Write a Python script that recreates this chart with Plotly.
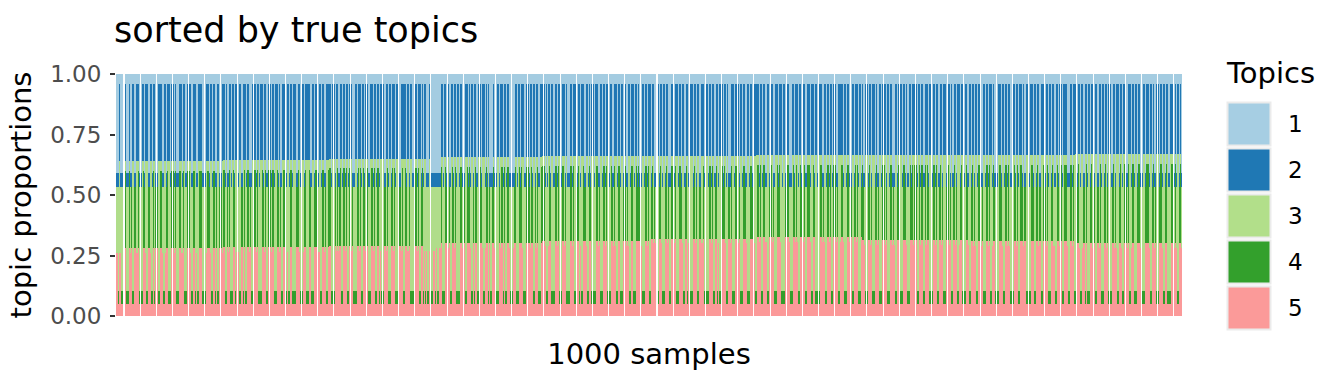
import plotly.graph_objects as go

# ---------------- data ----------------
TOPICS = ["1", "2", "3", "4", "5"]
COLORS = ["#A6CEE3", "#1F78B4", "#B2DF8A", "#33A02C", "#FB9A99"]
N_SAMPLES = 1000

# upper membership of every sample (B = topic 2 high, L = topic 1 high), 100 per row
UPPER_ROWS = [
    "LLLBLLLLBL LLBLLBBLLB BBLLBBLBBB LLBBLBBLLB BBBLLBBLBB BLBBLBLLLB BBLBBLLBBB LLBBBLLBBB BLLLBBBLBB LBBLLBBLLB",
    "BBLBLLBBLB BLBBLBBLLB BBLBBLLLBB BLBBLBBBLB BLLBBLBBLB BBLBLLBBBL BBLBBLBBBL LBBLBBLBBB BBLLBBLBBL BBLBBLLBBB",
    "BBLBBLBBLL BBLBBLBBLB BLLLBBLBBB LBBLBBLLBB BLBBLBBLBB BLLBBLBBLB BBLBBLLBBB BBLBBLBBLL BBLBBBLBLB BLLLBLLLLL",
    "LLLLLBBLBB LBLLBBLBBL BBLBBLLBBB LBLBBLBBLL BBLBBBLBLB LLLLBLLBBL BBBLBBLBBL LLLLBBLBBL BBBLLBBLBB LBBLBBLLBB",
    "BBLBLBBLBB LLBBLBBLBB BLBLLLBBLB BBLBBLBBBL LBBLBLBBLB BBLLBBLBBL BBLBBLLBBB LBBLBBLBLL BBLBBBLBBL BLLBBLBBLB",
    "BBLBBLLBBL BBLBBLBBLL LBBLBBBLBB LBBLLBBLBB BLBBLBBLLB BBLBBLBBLB BLLBBLBBBL BBLBLLLBBB LBBBLBBLBB LLBBLBBLBB",
    "BBBLBBLBBL LBBLBBLLBB BLBBBLBBLB BLLLBBLBBB LBBLBBLLBB BLBBBLBBLB BBLLBBLBBL BBLBBLLBBB BBLBBLBBLL BBLBBBLBBL",
    "BLLBBLBBLB BBLBLLBBLB BBLBBLBBLL LBBLBBBLBB LBLLBBLBBB BLBBLBBLLB BBLBBLBBLB BLLBBLBBBL BBLBLLBBLB BBLBBLBBLL",
    "BBLBBLBBLB BLLBBLBBLB BBLBLLLBBB LBBLBBLBBL LBBLBBLBBB LBLLBBLBBB LBBLBBLLBB BLBBLBBLBB LLBBLBBLBB BBLLLBBLBB",
    "BLBBLBBLLB BLBBLBBLBB LLBBLBBLBB LBBLLBBLBB BLBBLBBLLB BBLBBLBBLB BLLBBLBBBL BBLBLLBBLB BLBBLBBLLB BBLBLBBLBL",
]
# lower membership (P = topics 5 + 4 high, Q = topics 5 + 3 high, G = topic 3 high)
LOWER_ROWS = [
    "QQGQQGGQPG GGPQPGGPPQ QPGGGPPQGG PPQGGPGPPG GPPQGGQPPG GGPPQPGGGP PQQPGGGPPQ GGPPGQGGPP PGGGQPPPQG GPPGPGGPPQ",
    "PPGGPQPGGG PPGQQGGPPG PGGPPQPGGP PQPGGGGPPQ PGGPPQPPGG GPPQPGGPPG QGGPPGGGGP PPQGGQPPGG GPPGGGPPPQ QGGPPQPGGP",
    "PPGGGPQPQP PGGPPQPGGP QPGGGGPPQP GGPPQPGGGP PQPGGPPGQG GPPQPGGGPP QPGGGPPQPG GPPQQPGGGG PPQPGGPPGQ GQGGQGGQQG",
    "QGGQQPGGGP PQPGGPPQPG GGGPPQPGGP PPQGGPGPPG GPPQGGQPPG PGGPPQGGGP QPPGPGGPPQ GGQPPGGGPP PQGGGPPPQP PGGPQPGGGP",
    "PPQGGQPPGG GGPPQPGGPP QPGGGGPPQP GGPPGQGGPP PQGGPPGGGG PPQPGGGPPQ PGGGPPQPQG GPPGGGPPQP QGGPPGGGPP PPQGGGPPQP",
    "GGPPQPQGGP PQGGGPPQPG GPPQPGGGPP PQGGPPGQGG GPPQPGGPPQ QPGGGGPPQP GGPPGQGGPP PQGGPPQPGG GPPQPGGGPP PQGGGPPPQG",
    "GPPQPGGPPQ QGGPPQPGGG PPPQGGGGPP PQGGGPPQPQ GGPPQPGGPP PQGGPPGGGG PPQPQGGPPQ PGGPPQPGGQ PPQGGGPPQP GGPPQPGGGP",
    "PPQGGPPQPG GGPPQPGGGP PQPGGGPPQP QGGPPGGGPP PQGGGPPPQP PGGPQPPGGP QPPGGGPPQP GGPPQPGGGP PQPGGPPQPG GQPPGGGPPQ",
    "GGPPQPQGGP PQPGGGPPQP GGQPPGGGPP PQGGPPQPQG GGPPQPGGPP PQPPGGGGPP PGGPPQPPGG PPQPGGGPPQ QGGPPQPGGP PPQGGPPQPG",
    "GPPQGGQPPG PGGGPPQPGG PPQPGGGPPQ PGGGPPQPQG GPPQGGPPQP GGQPPGGGPP PQGGGPPPPQ GGPPQPGGPP PQGGPPGGGG PPQPQGGPPQ",
]

# levels per block of 100 samples (left to right)
TOPIC2_HIGH = [0.32, 0.315, 0.31, 0.305, 0.30, 0.30, 0.295, 0.295, 0.295, 0.29]
TOPIC5_HIGH = [0.28, 0.285, 0.29, 0.30, 0.31, 0.32, 0.325, 0.315, 0.31, 0.30]
TOPIC1_CAP = 0.04
TOPIC1_HIGH = 0.41
TOPIC2_LOW = 0.055
TOPIC3_SLIVER = 0.04
TOPIC5_LOW = 0.05
TOPIC4_LOW = 0.055

upper = "".join(UPPER_ROWS).replace(" ", "")
lower = "".join(LOWER_ROWS).replace(" ", "")
assert len(upper) == N_SAMPLES, len(upper)
assert len(lower) == N_SAMPLES, len(lower)

props = {t: [] for t in TOPICS}
for i in range(N_SAMPLES):
    blk = i // 100
    if upper[i] == "B":
        t1, t2 = TOPIC1_CAP, TOPIC2_HIGH[blk]
        sliver = TOPIC3_SLIVER
    else:
        t1, t2 = TOPIC1_HIGH, TOPIC2_LOW
        sliver = 0.0
    rest = 1.0 - t1 - t2
    if lower[i] == "P":
        t5 = TOPIC5_HIGH[blk]
        t3 = sliver
        t4 = rest - t5 - t3
    elif lower[i] == "Q":
        t5 = TOPIC5_HIGH[blk] - 0.02
        t4 = 0.0
        t3 = rest - t5
    else:
        t5 = TOPIC5_LOW
        t4 = TOPIC4_LOW
        t3 = rest - t5 - t4
    for t, v in zip(TOPICS, [t1, t2, t3, t4, t5]):
        props[t].append(v)

samples = list(range(1, N_SAMPLES + 1))

# ---------------- figure ----------------
fig = go.Figure()
# bottom of the stack first: topic 5 ... topic 1 on top
for t, c in reversed(list(zip(TOPICS, COLORS))):
    fig.add_trace(go.Bar(
        x=samples, y=props[t], name=t, width=0.937,
        marker=dict(color=c, line=dict(color=c, width=0.02)),
        hoverinfo="skip",
    ))

PL, PR, PT, PB = 116, 1182, 74, 316
W, H = 1344, 384


def px2paper_x(px):
    return (px - PL) / (PR - PL)


def px2paper_y(py):
    return (PB - py) / (PB - PT)


shapes = []
annotations = []
KEY_X0, KEY_SIZE, KEY_PITCH, KEY_TOP = 1227.5, 43, 46, 102.5
for j, (t, c) in enumerate(zip(TOPICS, COLORS)):
    top = KEY_TOP + j * KEY_PITCH
    shapes.append(dict(
        type="rect", xref="paper", yref="paper",
        x0=px2paper_x(KEY_X0), x1=px2paper_x(KEY_X0 + KEY_SIZE),
        y0=px2paper_y(top + KEY_SIZE), y1=px2paper_y(top),
        fillcolor=c, line=dict(color="#EBEBEB", width=2), layer="above",
    ))
    annotations.append(dict(
        text=t, xref="paper", yref="paper", x=px2paper_x(1286), y=px2paper_y(top + KEY_SIZE / 2),
        xanchor="left", yanchor="middle", showarrow=False,
        font=dict(size=23, color="black", family="DejaVu Sans"),
    ))
annotations.append(dict(
    text="Topics", xref="paper", yref="paper", x=px2paper_x(1224), y=px2paper_y(73),
    xanchor="left", yanchor="middle", showarrow=False,
    font=dict(size=29, color="black", family="DejaVu Sans"),
))

fig.update_layout(
    barmode="stack", bargap=0, bargroupgap=0,
    width=W, height=H,
    margin=dict(l=PL, r=W - PR, t=PT, b=H - PB),
    plot_bgcolor="white", paper_bgcolor="white",
    showlegend=False,
    font=dict(family="DejaVu Sans", color="black"),
    title=dict(text="sorted by true topics", x=114 / W, xanchor="left", xref="container",
               y=1 - 30 / H, yref="container", yanchor="middle",
               font=dict(size=35, color="black", family="DejaVu Sans")),
    shapes=shapes, annotations=annotations,
)
fig.update_xaxes(range=[0.5, N_SAMPLES + 0.5], showticklabels=False, ticks="",
                 showgrid=False, zeroline=False, showline=False,
                 title=dict(text="1000 samples", standoff=27,
                            font=dict(size=29, color="black", family="DejaVu Sans")))
fig.update_yaxes(range=[0, 1], tickvals=[0, 0.25, 0.5, 0.75, 1.0],
                 ticktext=["0.00", "0.25", "0.50", "0.75", "1.00"],
                 ticks="outside", ticklen=5, tickwidth=1.5, tickcolor="#333333",
                 ticklabelstandoff=4,
                 tickfont=dict(size=23, color="#4D4D4D", family="DejaVu Sans"),
                 showgrid=False, zeroline=False, showline=False,
                 title=dict(text="topic proportions", standoff=10,
                            font=dict(size=29, color="black", family="DejaVu Sans")))

fig.write_html("out.html", config={"displayModeBar": False},
               post_script="document.body.style.margin='0px';")
